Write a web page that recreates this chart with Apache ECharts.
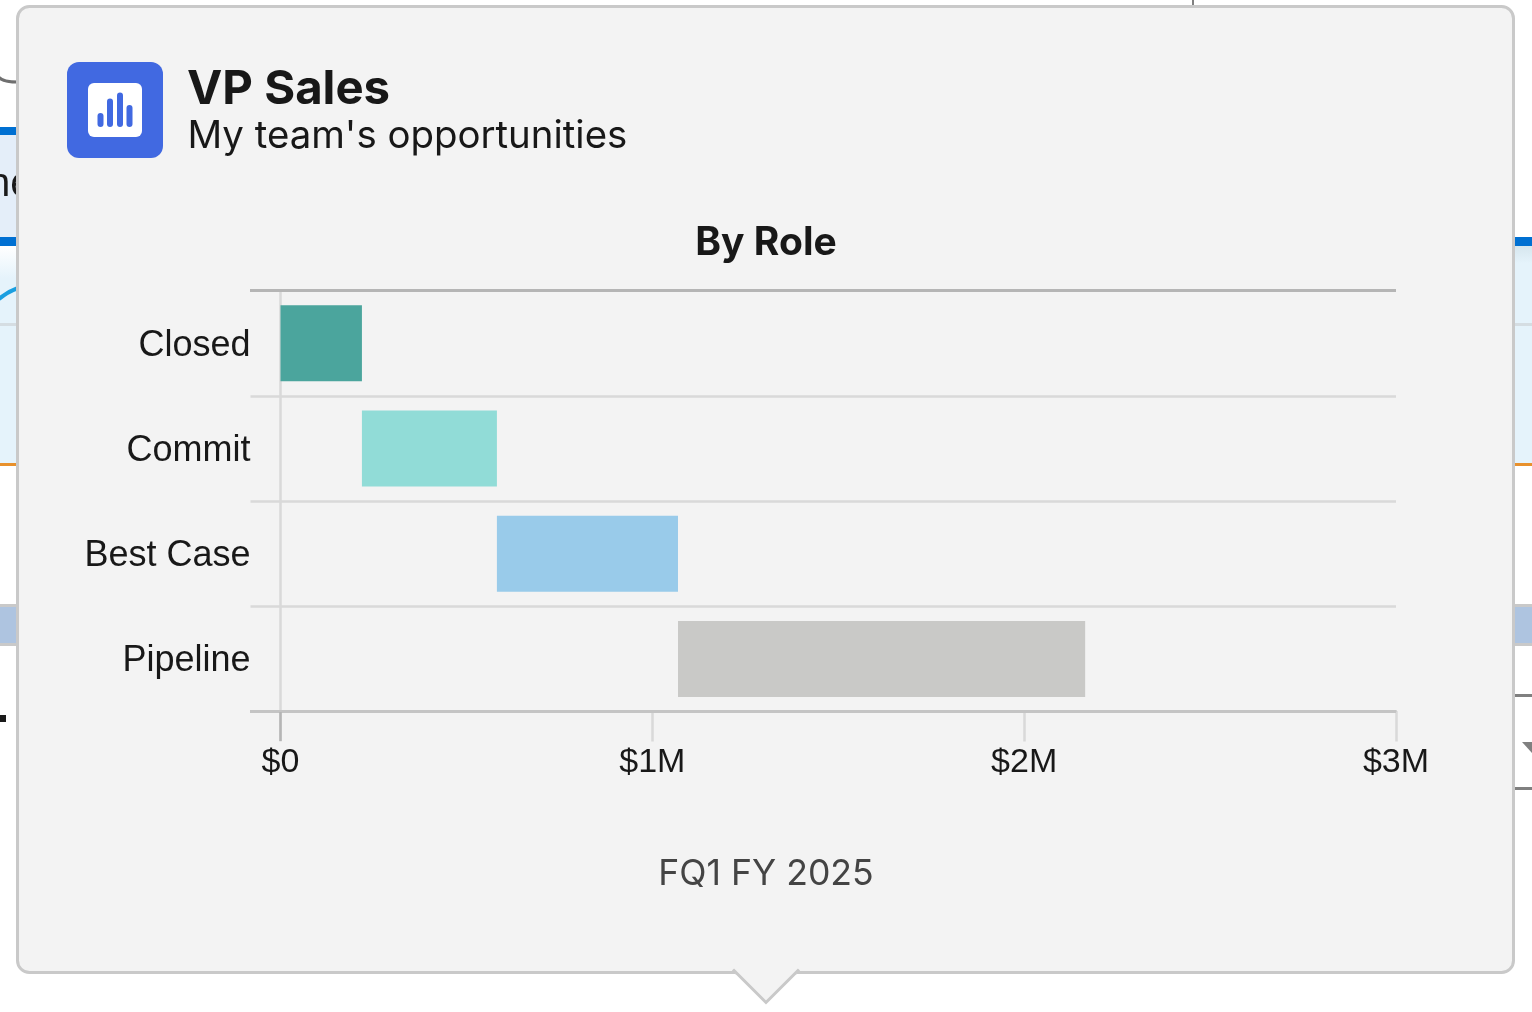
<!DOCTYPE html>
<html>
<head>
<meta charset="utf-8">
<style>
html, body { margin: 0; padding: 0; background: #fff; }
#chart { width: 1532px; height: 1012px; }
</style>
<script src="https://cdn.jsdelivr.net/npm/echarts@6/dist/echarts.min.js"></script>
</head>
<body>
<div id="chart"></div>
<script>
var categories = ['Closed', 'Commit', 'Best Case', 'Pipeline'];
var amounts = [0.219, 0.363, 0.487, 1.095]; // $M
var barColors = ['#4ba59d', '#91dcd7', '#99cbea', '#c9c9c7'];
var tickLabels = ['$0', '$1M', '$2M', '$3M'];

// each bar starts where the one before it ended
var offsets = [];
var running = 0;
for (var i = 0; i < amounts.length; i++) {
    offsets[i] = running;
    running += amounts[i];
}

var uiFont = 'Inter';
var axisFont = '"Liberation Sans"';
var cardBg = '#f3f3f3';
var cardBorder = '#c9c9c9';

function box(x, y, w, h, fill, z, r) {
    return { type: 'rect', z: z, shape: { x: x, y: y, width: w, height: h, r: r || 0 }, style: { fill: fill } };
}
function seg(x1, y1, x2, y2, color, width, z) {
    return { type: 'line', z: z, shape: { x1: x1, y1: y1, x2: x2, y2: y2 }, style: { stroke: color, lineWidth: width } };
}

// whatever peeks out behind the popover
var pageBits = [
    { type: 'bezierCurve', z: -5, shape: { x1: -2, y1: 76, cpx1: 1, cpy1: 82, x2: 18, y2: 82 }, style: { fill: null, stroke: '#6f6f6f', lineWidth: 3 } },
    box(0, 127, 18, 8, '#0070d2', -5),
    box(0, 135, 18, 102, '#e4eef9', -5),
    { type: 'text', z: -4, style: { x: -12, y: 165, text: 'ne', font: '40px ' + axisFont, fill: '#1a1a1a' } },
    box(0, 237, 18, 9, '#0070d2', -5),
    box(1512, 237, 20, 9, '#0070d2', -5),
    {
        type: 'rect', z: -5, shape: { x: 0, y: 246, width: 18, height: 218 },
        style: { fill: new echarts.graphic.LinearGradient(0, 0, 0, 1, [
            { offset: 0, color: '#ffffff' }, { offset: 0.15, color: '#e5f3fb' }, { offset: 1, color: '#e5f3fb' }
        ]) }
    },
    {
        type: 'rect', z: -5, shape: { x: 1512, y: 246, width: 20, height: 218 },
        style: { fill: new echarts.graphic.LinearGradient(0, 0, 0, 1, [
            { offset: 0, color: '#d6e6ee' }, { offset: 0.08, color: '#e5f3fb' }, { offset: 1, color: '#e5f3fb' }
        ]) }
    },
    { type: 'bezierCurve', z: -4, shape: { x1: -1, y1: 299, cpx1: 7, cpy1: 292, x2: 18, y2: 288 }, style: { fill: null, stroke: '#1a9fe0', lineWidth: 4 } },
    seg(0, 324.5, 18, 324.5, '#d5dde2', 3, -4),
    seg(1512, 324.5, 1532, 324.5, '#d5dde2', 3, -4),
    seg(0, 464.5, 18, 464.5, '#e8912d', 3, -4),
    seg(1512, 464.5, 1532, 464.5, '#e8912d', 3, -4),
    box(0, 604, 18, 42, '#c9c9c9', -5),
    box(0, 607, 18, 36, '#aec4e0', -4),
    box(1512, 604, 20, 42, '#c9c9c9', -5),
    box(1512, 607, 20, 36, '#aec4e0', -4),
    box(0, 715, 6, 7, '#1a1a1a', -4),
    seg(1512, 695.5, 1532, 695.5, '#808080', 3, -4),
    seg(1512, 788.5, 1532, 788.5, '#808080', 3, -4),
    { type: 'polygon', z: -4, shape: { points: [[1522, 742], [1532, 742], [1532, 753]] }, style: { fill: '#808080' } },
    seg(1193, 0, 1193, 6, '#808080', 2, -4)
];

var popover = [
    { type: 'rect', z: -3, shape: { x: 17.5, y: 6.5, width: 1496, height: 966, r: 12 }, style: { fill: cardBg, stroke: cardBorder, lineWidth: 3 } },
    // pointer: fill first, then only the two slanted edges
    { type: 'polygon', z: -2, shape: { points: [[733, 969], [766, 1002], [799, 969]] }, style: { fill: cardBg } },
    box(735, 970, 62, 5, cardBg, -2),
    { type: 'polyline', z: -1, shape: { points: [[733, 969.5], [766, 1002.5], [799, 969.5]] }, style: { fill: null, stroke: cardBorder, lineWidth: 3 } },
    // header icon
    box(67, 62, 96, 96, '#4169e1', -1, 12),
    box(88, 83, 54, 54, '#ffffff', 0, 6),
    box(97.5, 113, 6, 14, '#4169e1', 1, 3),
    box(107, 98.5, 6, 28.5, '#4169e1', 1, 3),
    box(117, 92.5, 6, 34.5, '#4169e1', 1, 3),
    box(126.5, 105, 6, 22, '#4169e1', 1, 3)
];

// the frame lines are darker than the row separators
var frame = [
    seg(250, 290.5, 1396, 290.5, '#b5b5b5', 3, 5),
    seg(250, 711.5, 1396, 711.5, '#c4c4c4', 3, 5),
    seg(280.5, 712, 280.5, 741, '#b5b5b5', 2.5, 5)
];

var chart = echarts.init(document.getElementById('chart'), null, { renderer: 'canvas' });

var option = {
    animation: false,
    backgroundColor: '#ffffff',
    title: [
        { text: 'VP Sales', left: 187, top: 66, padding: 0, textStyle: { fontFamily: uiFont, fontSize: 47.3, fontWeight: 700, color: '#181818' } },
        { text: "My team's opportunities", left: 187.5, top: 117, padding: 0, textStyle: { fontFamily: uiFont, fontSize: 38.4, fontWeight: 400, color: '#181818' } },
        { text: 'By Role', left: 766, textAlign: 'center', top: 224, padding: 0, textStyle: { fontFamily: uiFont, fontSize: 39, fontWeight: 700, color: '#181818' } },
        { text: 'FQ1 FY 2025', left: 766, textAlign: 'center', top: 856, padding: 0, textStyle: { fontFamily: uiFont, fontSize: 35.6, fontWeight: 400, color: '#444444' } }
    ],
    grid: { left: 280.5, top: 290.5, width: 1115.5, height: 421 },
    xAxis: {
        type: 'value',
        min: 0,
        max: 3,
        interval: 1,
        axisLine: { show: true, lineStyle: { color: '#c4c4c4', width: 2.5 } },
        axisTick: { show: true, length: 30, lineStyle: { color: '#d9d9d9', width: 2.5 } },
        splitLine: { show: false },
        axisLabel: {
            margin: 34,
            fontFamily: axisFont,
            fontSize: 34,
            color: '#181818',
            showMinLabel: true,
            showMaxLabel: true,
            hideOverlap: false,
            formatter: function (value) { return tickLabels[Math.round(value)]; }
        }
    },
    yAxis: {
        type: 'category',
        inverse: true,
        data: categories,
        axisLine: { show: true, lineStyle: { color: '#d9d9d9', width: 2.5 } },
        axisTick: { show: true, length: 30, alignWithLabel: false, lineStyle: { color: '#d9d9d9', width: 2.5 } },
        splitLine: { show: true, lineStyle: { color: '#d9d9d9', width: 2.5 } },
        axisLabel: {
            margin: 30,
            formatter: '{cat|{value}}',
            rich: { cat: { fontFamily: axisFont, fontSize: 36, color: '#181818', padding: [5, 0, 0, 0] } }
        }
    },
    series: [
        {
            name: 'offset',
            type: 'bar',
            stack: 'total',
            barWidth: 76,
            silent: true,
            itemStyle: { color: 'transparent' },
            data: offsets
        },
        {
            name: 'Amount',
            type: 'bar',
            stack: 'total',
            barWidth: 76,
            data: amounts.map(function (v, i) {
                return { value: v, itemStyle: { color: barColors[i] } };
            })
        }
    ],
    graphic: { elements: pageBits.concat(popover, frame) }
};

chart.setOption(option);
</script>
</body>
</html>
